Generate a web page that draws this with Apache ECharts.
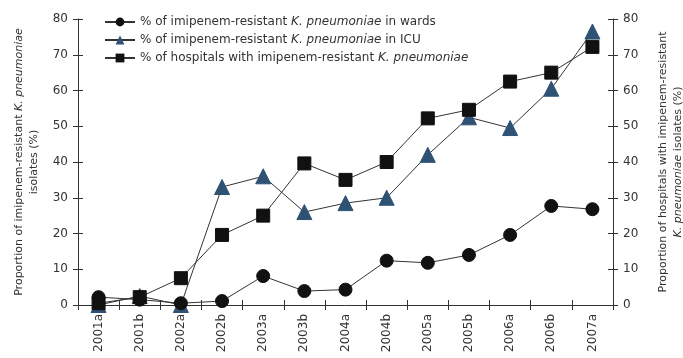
<!DOCTYPE html>
<html>
<head>
<meta charset="utf-8">
<script src="https://cdn.jsdelivr.net/npm/echarts@6/dist/echarts.min.js"></script>
<style>
  html, body { margin: 0; padding: 0; background: #fff; }
  #chart { width: 683px; height: 358px; }
</style>
</head>
<body>
<div id="chart"></div>
<script>
// Survey periods (half-years)
const periods = ['2001a', '2001b', '2002a', '2002b', '2003a', '2003b', '2004a',
                 '2004b', '2005a', '2005b', '2006a', '2006b', '2007a'];

// % of imipenem-resistant K. pneumoniae isolates in wards
const wards = [2.2, 1.5, 0.5, 1.1, 8.1, 3.9, 4.3, 12.4, 11.8, 14.0, 19.6, 27.7, 26.8];

// % of imipenem-resistant K. pneumoniae isolates in ICU
const icu = [0, 2.5, 0, 33, 36, 26, 28.5, 30, 42, 52.5, 49.5, 60.5, 76.5];

// % of hospitals with imipenem-resistant K. pneumoniae (right axis)
const hospitals = [0.5, 2.2, 7.5, 19.6, 25, 39.6, 35, 40, 52.2, 54.6, 62.5, 65, 72.2];

const yTicks = [0, 10, 20, 30, 40, 50, 60, 70, 80];

const FONT = "'DejaVu Sans', 'Liberation Sans', sans-serif";
const INK = '#333';

const chart = echarts.init(document.getElementById('chart'));

const yAxisBase = {
  type: 'value',
  min: yTicks[0],
  max: yTicks[yTicks.length - 1],
  interval: 10,
  splitLine: { show: false },
  axisLine: { show: true, lineStyle: { color: INK, width: 1 } },
  axisTick: { show: true, length: 5, lineStyle: { color: INK } },
  axisLabel: { color: INK, fontSize: 12, fontFamily: FONT, margin: 10 },
  nameLocation: 'middle',
  nameRotate: 90,
  nameTextStyle: {
    color: INK, fontSize: 11, fontFamily: FONT, lineHeight: 15,
    rich: { i: { fontStyle: 'italic', fontSize: 11, fontFamily: FONT, color: INK } }
  }
};

// Inner half of the crossing tick marks (no line, no labels)
const innerTicks = {
  axisLine: { show: false },
  axisLabel: { show: false, interval: 0 },
  splitLine: { show: false },
  axisTick: { show: true, inside: true, length: 5, interval: 0, lineStyle: { color: INK } }
};

chart.setOption({
  animation: false,
  backgroundColor: '#fff',
  grid: { left: 78, right: 70, top: 19, bottom: 53, outerBoundsMode: 'none', containLabel: false },
  legend: {
    orient: 'vertical',
    left: 99,
    top: 11,
    itemWidth: 30,
    itemHeight: 11,
    itemGap: 6,
    textStyle: {
      color: INK, fontSize: 12, fontFamily: FONT,
      rich: { i: { fontStyle: 'italic', fontSize: 12, fontFamily: FONT, color: INK } }
    },
    formatter: function (name) {
      return name.replace('K. pneumoniae', '{i|K. pneumoniae}');
    },
    data: [
      '% of imipenem-resistant K. pneumoniae in wards',
      '% of imipenem-resistant K. pneumoniae in ICU',
      '% of hospitals with imipenem-resistant K. pneumoniae'
    ]
  },
  xAxis: [
    {
      type: 'category',
      data: periods,
      boundaryGap: true,
      axisLine: { show: true, lineStyle: { color: INK, width: 1 } },
      axisTick: { show: true, length: 5, interval: 0, lineStyle: { color: INK } },
      axisLabel: { rotate: 90, interval: 0, color: INK, fontSize: 12, fontFamily: FONT, margin: 9 },
      splitLine: { show: false }
    },
    Object.assign({ type: 'category', data: periods, boundaryGap: true, position: 'bottom' }, innerTicks)
  ],
  yAxis: [
    Object.assign({}, yAxisBase, {
      position: 'left',
      name: 'Proportion of imipenem-resistant {i|K. pneumoniae}\nisolates (%)',
      nameGap: 35
    }),
    Object.assign({}, yAxisBase, {
      position: 'right',
      name: 'Proportion of hospitals with imipenem-resistant\n{i|K. pneumoniae} isolates (%)',
      nameGap: 43
    }),
    Object.assign({ type: 'value', min: yTicks[0], max: yTicks[yTicks.length - 1], interval: 10, position: 'left' }, innerTicks),
    Object.assign({ type: 'value', min: yTicks[0], max: yTicks[yTicks.length - 1], interval: 10, position: 'right' }, innerTicks)
  ],
  series: [
    {
      name: '% of imipenem-resistant K. pneumoniae in wards',
      type: 'line',
      yAxisIndex: 0,
      data: wards,
      symbol: 'circle',
      symbolSize: 13,
      z: 3,
      lineStyle: { color: INK, width: 1 },
      itemStyle: { color: '#111', borderColor: '#111' }
    },
    {
      name: '% of imipenem-resistant K. pneumoniae in ICU',
      type: 'line',
      yAxisIndex: 0,
      data: icu,
      symbol: 'triangle',
      symbolSize: 15,
      z: 2,
      lineStyle: { color: INK, width: 1 },
      itemStyle: { color: '#2f5274', borderColor: '#2f5274' }
    },
    {
      name: '% of hospitals with imipenem-resistant K. pneumoniae',
      type: 'line',
      yAxisIndex: 1,
      data: hospitals,
      symbol: 'rect',
      symbolSize: 13,
      z: 4,
      lineStyle: { color: INK, width: 1 },
      itemStyle: { color: '#111', borderColor: '#111' }
    }
  ]
});
</script>
</body>
</html>
